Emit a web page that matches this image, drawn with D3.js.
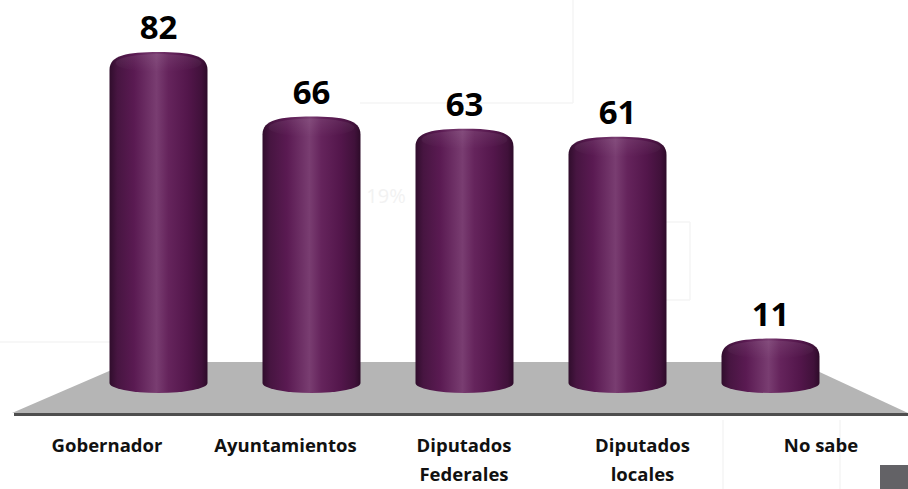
<!DOCTYPE html>
<html>
<head>
<meta charset="utf-8">
<script src="https://cdn.jsdelivr.net/npm/d3@7"></script>
<style>
    html, body { margin: 0; padding: 0; background: #fff; }
    svg { display: block; }
</style>
</head>
<body>
<div id="chart"></div>
<script>
// data
const categories = ['Gobernador', 'Ayuntamientos', 'Diputados Federales', 'Diputados locales', 'No sabe'];
const labelLines = [['Gobernador'], ['Ayuntamientos'], ['Diputados', 'Federales'], ['Diputados', 'locales'], ['No sabe']];
const values = [82, 66, 63, 61, 11];

const width = 908;
const height = 489;
const font = '"Open Sans", "Liberation Sans", sans-serif';

const svg = d3.select('#chart')
    .append('svg')
    .attr('width', width)
    .attr('height', height);

const defs = svg.append('defs');

// horizontal shading for the cylinders
const bodyGrad = defs.append('linearGradient')
    .attr('id', 'cyl')
    .attr('x1', '0%').attr('x2', '100%')
    .attr('y1', '0%').attr('y2', '0%');
[
    ['0%', '#300d2c'],
    ['8%', '#471541'],
    ['25%', '#5a1a52'],
    ['48%', '#793d71'],
    ['60%', '#65245c'],
    ['80%', '#53164b'],
    ['94%', '#40113a'],
    ['100%', '#2d0b29']
].forEach(([o, c]) => bodyGrad.append('stop').attr('offset', o).attr('stop-color', c));

const capGrad = defs.append('linearGradient')
    .attr('id', 'cap')
    .attr('x1', '0%').attr('x2', '0%')
    .attr('y1', '0%').attr('y2', '100%');
capGrad.append('stop').attr('offset', '0%').attr('stop-color', '#ffffff').attr('stop-opacity', 0.08);
capGrad.append('stop').attr('offset', '100%').attr('stop-color', '#ffffff').attr('stop-opacity', 0);

// faint background leftovers
const bg = svg.append('g').attr('stroke', '#f5f5f5').attr('stroke-width', 1.5).attr('fill', 'none');
bg.append('path').attr('d', 'M573,0 V103 M360,103 H573 M690,222 V300 M575,222 H690 M0,342 H110 M723,420 V489 M840,420 V489 M575,300 H690');
svg.append('text')
    .attr('x', 386).attr('y', 203)
    .attr('text-anchor', 'middle')
    .attr('font-family', font)
    .attr('font-size', 20)
    .attr('fill', '#f2f2f2')
    .text('19%');

// scales
const x = d3.scaleBand()
    .domain(categories)
    .range([82, 847])
    .padding(0);
const barW = 98;

const y = d3.scaleLinear()
    .domain([0, 82])
    .range([383, 52]);

const xLabel = d3.scalePoint()
    .domain(categories)
    .range([107, 821]);

// floor
svg.append('path')
    .attr('d', 'M12,413 L908,413 L798,362 L130,362 Z')
    .attr('fill', '#b5b5b5');
svg.append('line')
    .attr('x1', 14).attr('x2', 908)
    .attr('y1', 414.5).attr('y2', 414.5)
    .attr('stroke', '#4e4e4e')
    .attr('stroke-width', 3);

// cylinders
const ry = 10;
const bars = svg.append('g')
    .selectAll('g')
    .data(categories.map((c, i) => ({ cat: c, value: values[i] })))
    .join('g');

function cylPath(d) {
    const cx = x(d.cat) + x.bandwidth() / 2;
    const x0 = cx - barW / 2;
    const x1 = cx + barW / 2;
    const yt = y(d.value);
    const yb = y(0);
    const sh = 18;
    return `M${x0},${yb} L${x0},${yt + sh}` +
        ` C${x0},${yt + 3} ${x0 + barW * 0.18},${yt} ${cx},${yt}` +
        ` C${x1 - barW * 0.18},${yt} ${x1},${yt + 3} ${x1},${yt + sh}` +
        ` L${x1},${yb} A${barW / 2},${ry} 0 0 1 ${x0},${yb} Z`;
}

bars.append('path')
    .attr('d', cylPath)
    .attr('fill', 'url(#cyl)');

bars.append('ellipse')
    .attr('cx', d => x(d.cat) + x.bandwidth() / 2)
    .attr('cy', d => y(d.value) + 11)
    .attr('rx', barW / 2 - 6)
    .attr('ry', 9)
    .attr('fill', 'url(#cap)');

// value labels
bars.append('text')
    .attr('x', d => x(d.cat) + x.bandwidth() / 2)
    .attr('y', d => y(d.value) - 13)
    .attr('text-anchor', 'middle')
    .attr('font-family', font)
    .attr('font-weight', 700)
    .attr('font-size', 33)
    .attr('fill', '#000')
    .text(d => d.value);

// category labels
const catText = svg.append('g')
    .selectAll('text')
    .data(categories)
    .join('text')
    .attr('x', d => xLabel(d))
    .attr('y', 452)
    .attr('text-anchor', 'middle')
    .attr('font-family', font)
    .attr('font-weight', 700)
    .attr('font-size', 18.5)
    .attr('fill', '#111');

catText.each(function(d, i) {
    d3.select(this).selectAll('tspan')
        .data(labelLines[i])
        .join('tspan')
        .attr('x', xLabel(d))
        .attr('dy', (t, j) => j === 0 ? 0 : 29)
        .text(t => t);
});

// small gray square at the corner
svg.append('rect')
    .attr('x', 880).attr('y', 465)
    .attr('width', 28).attr('height', 24)
    .attr('fill', '#636266');
</script>
</body>
</html>
